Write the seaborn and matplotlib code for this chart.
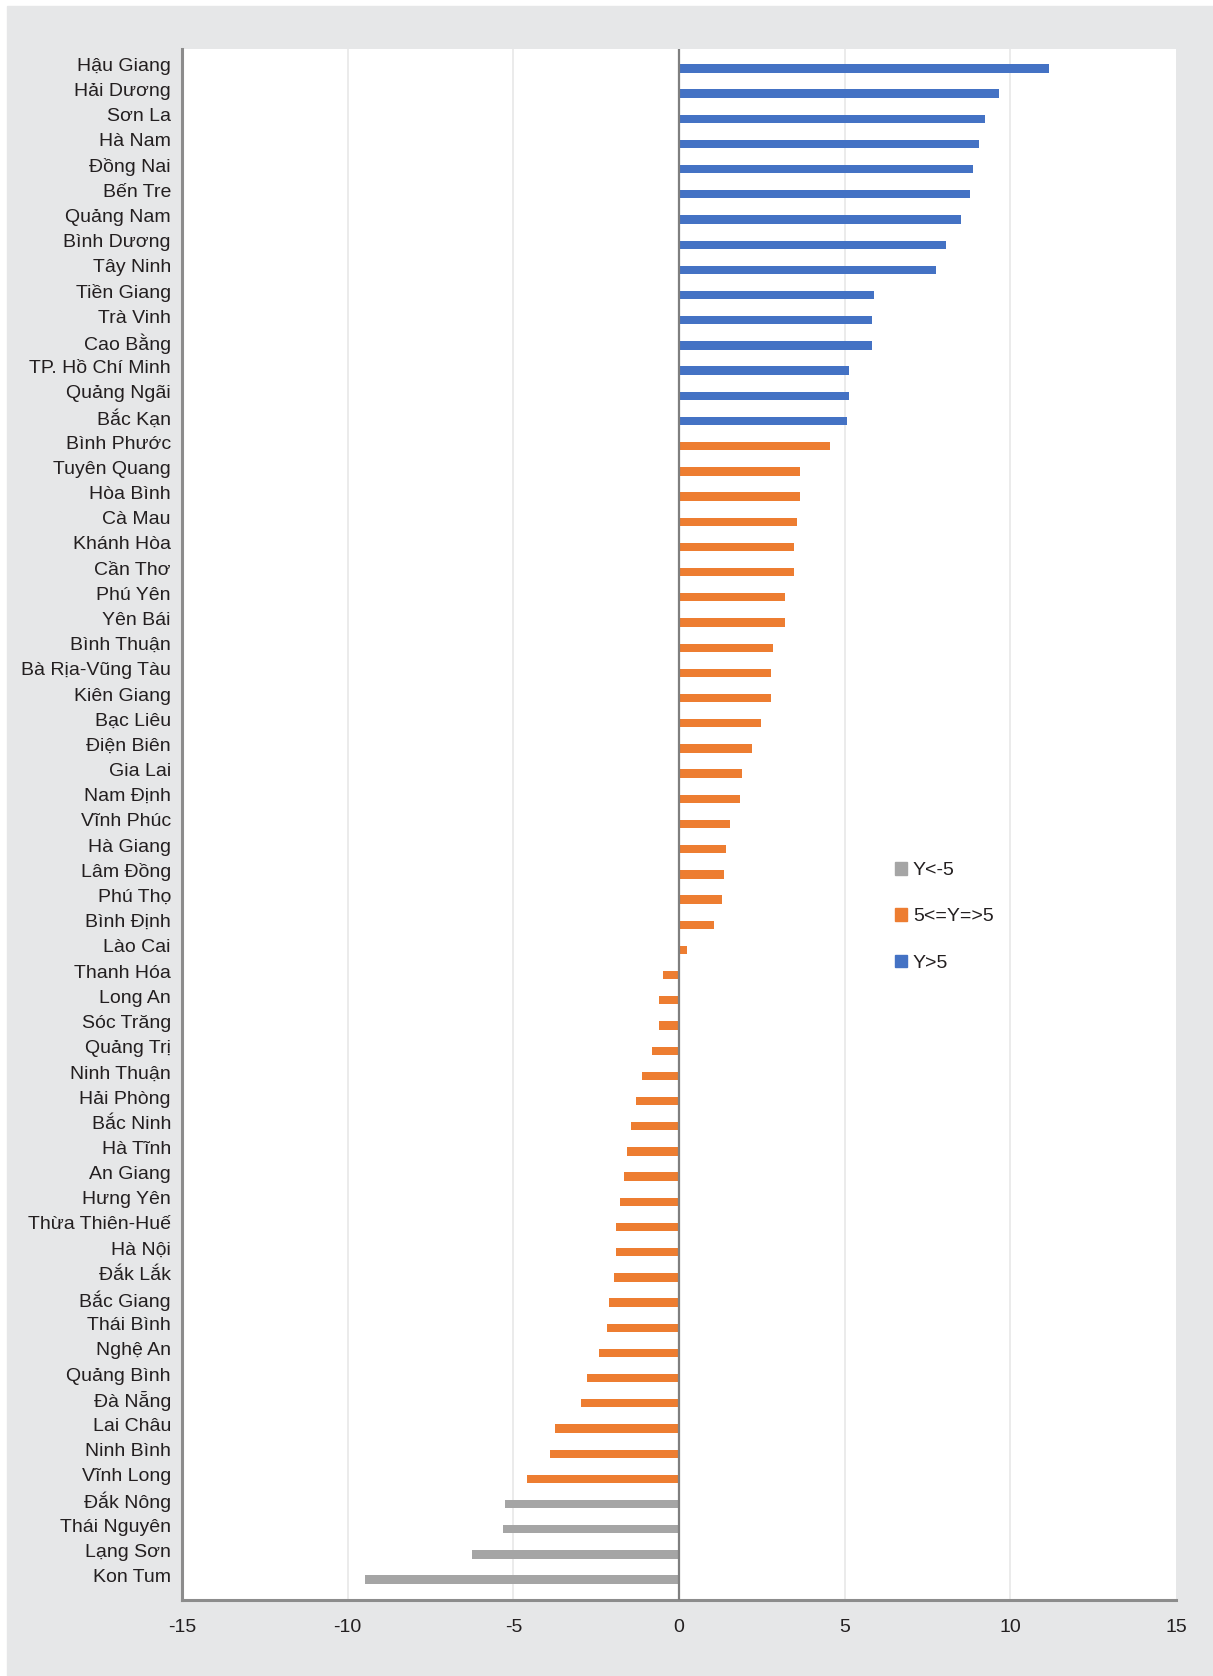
import matplotlib
matplotlib.use("Agg")
import matplotlib.pyplot as plt
import matplotlib.patches as mpatches
from matplotlib.transforms import ScaledTranslation
import seaborn as sns
import pandas as pd

provinces = [
    "Hậu Giang", "Hải Dương", "Sơn La", "Hà Nam", "Đồng Nai", "Bến Tre", "Quảng Nam",
    "Bình Dương", "Tây Ninh", "Tiền Giang", "Trà Vinh", "Cao Bằng", "TP. Hồ Chí Minh",
    "Quảng Ngãi", "Bắc Kạn", "Bình Phước", "Tuyên Quang", "Hòa Bình", "Cà Mau",
    "Khánh Hòa", "Cần Thơ", "Phú Yên", "Yên Bái", "Bình Thuận", "Bà Rịa-Vũng Tàu",
    "Kiên Giang", "Bạc Liêu", "Điện Biên", "Gia Lai", "Nam Định", "Vĩnh Phúc",
    "Hà Giang", "Lâm Đồng", "Phú Thọ", "Bình Định", "Lào Cai", "Thanh Hóa", "Long An",
    "Sóc Trăng", "Quảng Trị", "Ninh Thuận", "Hải Phòng", "Bắc Ninh", "Hà Tĩnh",
    "An Giang", "Hưng Yên", "Thừa Thiên-Huế", "Hà Nội", "Đắk Lắk", "Bắc Giang",
    "Thái Bình", "Nghệ An", "Quảng Bình", "Đà Nẵng", "Lai Châu", "Ninh Bình",
    "Vĩnh Long", "Đắk Nông", "Thái Nguyên", "Lạng Sơn", "Kon Tum",
]
values = [
    11.16, 9.65, 9.23, 9.06, 8.87, 8.77, 8.52, 8.06, 7.77, 5.90, 5.84, 5.84, 5.13,
    5.13, 5.06, 4.55, 3.65, 3.65, 3.55, 3.48, 3.48, 3.19, 3.19, 2.84, 2.77, 2.77,
    2.48, 2.19, 1.90, 1.84, 1.55, 1.42, 1.35, 1.29, 1.06, 0.23, -0.48, -0.61, -0.61,
    -0.81, -1.13, -1.29, -1.45, -1.58, -1.65, -1.77, -1.90, -1.90, -1.97, -2.10,
    -2.16, -2.42, -2.77, -2.97, -3.74, -3.90, -4.58, -5.26, -5.32, -6.26, -9.48,
]
group_labels = ["Y<-5", "5<=Y=>5", "Y>5"]
group_colors = ["#A5A5A5", "#ED7D31", "#4472C4"]
x_ticks = [-15, -10, -5, 0, 5, 10, 15]


def group_of(v):
    if v < -5:
        return group_labels[0]
    if v > 5:
        return group_labels[2]
    return group_labels[1]


df = pd.DataFrame({"province": provinces, "value": values})
df["group"] = [group_of(v) for v in values]

sns.set_theme(style="white")
plt.rcParams["font.family"] = ["Liberation Sans", "DejaVu Sans"]

W, H = 1213, 1676
fig = plt.figure(figsize=(W / 100, H / 100), dpi=100, facecolor="white")
fig.patches.append(mpatches.Rectangle((7 / W, 0), 1 - 7 / W, 1 - 6 / H,
                                      transform=fig.transFigure, color="#E6E7E8",
                                      zorder=-10))
ax = fig.add_axes([182 / W, 1 - 1600 / H, (1176 - 182) / W, (1600 - 49) / H])
ax.set_facecolor("white")

palette = dict(zip(group_labels, group_colors))
sns.barplot(data=df, x="value", y="province", hue="group", hue_order=group_labels,
            palette=palette, dodge=False, width=0.33, orient="h", ax=ax,
            legend=False, saturation=1, linewidth=0)

ax.set_xlim(-15, 15)
ax.set_ylim(len(provinces) - 1 + 0.81, -0.77)
ax.set_xticks(x_ticks)
ax.set_xticklabels([str(t) for t in x_ticks])
for t in x_ticks:
    if t not in (-15, 0, 15):
        ax.axvline(t, color="#E8E8E8", lw=1.2, zorder=0)
ax.axvline(0, color="#7F7F7F", lw=1.6, zorder=3)

for s in ["top", "right"]:
    ax.spines[s].set_visible(False)
for s in ["left", "bottom"]:
    ax.spines[s].set_color("#8C8C8C")
    ax.spines[s].set_linewidth(2.2)

ax.set_xlabel("")
ax.set_ylabel("")
ax.tick_params(axis="both", length=0, labelsize=14, colors="#231F20")
ax.tick_params(axis="y", pad=8)
ax.tick_params(axis="x", pad=14)

shift = ScaledTranslation(0, 4 / 100, fig.dpi_scale_trans)
for lab in ax.get_yticklabels():
    lab.set_transform(lab.get_transform() + shift)

handles = [mpatches.Patch(color=c, label=l) for l, c in zip(group_labels, group_colors)]
leg = ax.legend(handles=handles, loc="upper left", bbox_to_anchor=(0.70, 0.487),
                frameon=False, fontsize=14, handlelength=0.6, handleheight=0.6,
                handletextpad=0.3, labelspacing=1.5)
for t in leg.get_texts():
    t.set_color("#231F20")

fig.savefig("out.png", dpi=100, facecolor=fig.get_facecolor())
